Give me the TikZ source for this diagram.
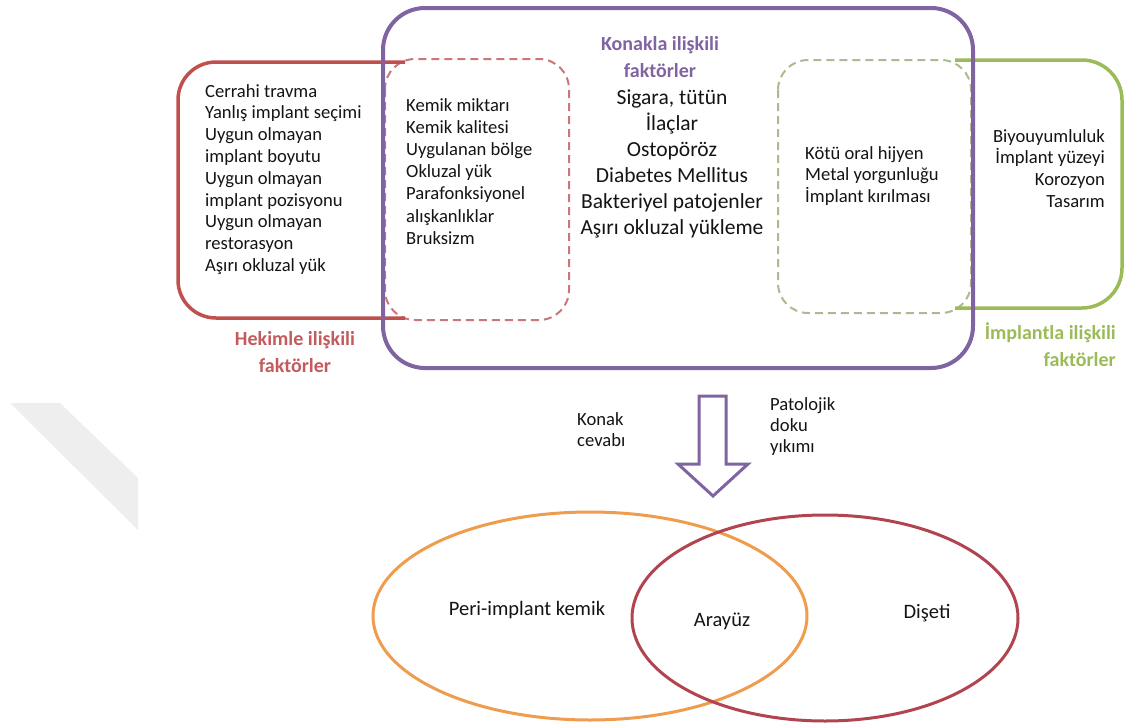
\documentclass[tikz,border=0pt]{standalone}
\usepackage{fontspec}
\setmainfont{Carlito}
\definecolor{redc}{RGB}{192,80,77}
\definecolor{redlbl}{RGB}{196,90,92}
\definecolor{reddash}{RGB}{200,120,120}
\definecolor{purp}{RGB}{128,100,162}
\definecolor{greenc}{RGB}{155,187,89}
\definecolor{greendash}{RGB}{172,186,145}
\definecolor{orangec}{RGB}{238,156,78}
\definecolor{ellred}{RGB}{178,68,80}
\definecolor{txtc}{RGB}{20,20,20}
\definecolor{wm}{RGB}{238,238,238}
\begin{document}
\begin{tikzpicture}[x=1pt,y=-1pt,
  txt/.style={inner sep=0pt, font=\fontsize{18.6}{21.8}\selectfont, text=txtc, align=left},
  bigtxt/.style={inner sep=0pt, font=\fontsize{21.5}{26}\selectfont, text=txtc, align=center},
  lbl/.style={inner sep=0pt, font=\bfseries\fontsize{20}{27}\selectfont},
  ovtxt/.style={inner sep=0pt, font=\fontsize{20.5}{24}\selectfont, text=txtc},
  solidbox/.style={line width=3.5pt},
  dashbox/.style={line width=2pt, dash pattern=on 8pt off 5pt, rounded corners=30pt},
]
\useasboundingbox (0,0) rectangle (1125,723);
% watermark band
\fill[wm] (10,403) -- (60,403) -- (138,478) -- (138,530) -- cycle;

% dashed inner boxes
\draw[dashbox, reddash] (385,59) rectangle (569,320);
\draw[dashbox, greendash] (778,60) rectangle (971,313);

% doctor-related (red) open box
\draw[solidbox, redc, rounded corners=38pt] (405,62) -- (178,62) -- (178,318) -- (405,318);
% implant-related (green) open box
\draw[solidbox, greenc, rounded corners=40pt] (955,60) -- (1122,60) -- (1122,308) -- (955,308);
% host-related (purple) box
\draw[line width=4pt, purp, rounded corners=42pt] (383,8) rectangle (973,368);

% texts
\node[txt, anchor=north west] (hek) at (205,84) {Cerrahi travma\\Yanlış implant seçimi\\Uygun olmayan\\implant boyutu\\Uygun olmayan\\implant pozisyonu\\Uygun olmayan\\restorasyon\\Aşırı okluzal yük};
\node[lbl, text=redlbl, align=center, anchor=north] (hekl) at (295,331) {Hekimle ilişkili\\faktörler};

\node[txt, anchor=north west, font=\fontsize{18.6}{22.2}\selectfont] (ortak1) at (406,98) {Kemik miktarı\\Kemik kalitesi\\Uygulanan bölge\\Okluzal yük\\Parafonksiyonel\\alışkanlıklar\\Bruksizm};

\node[lbl, text=purp, align=center, anchor=north] (konl) at (660,36) {Konakla ilişkili\\faktörler};
\node[bigtxt, anchor=north] (kon) at (672,90) {Sigara, tütün\\İlaçlar\\Ostopöröz\\Diabetes Mellitus\\Bakteriyel patojenler\\Aşırı okluzal yükleme};

\node[txt, anchor=north west] (ortak2) at (805,146) {Kötü oral hijyen\\Metal yorgunluğu\\İmplant kırılması};

\node[txt, align=right, anchor=north east] (imp) at (1105,129) {Biyouyumluluk\\İmplant yüzeyi\\Korozyon\\Tasarım};
\node[lbl, text=greenc, align=right, anchor=north east] (impl) at (1116,323) {İmplantla ilişkili\\faktörler};

% block arrow
\draw[purp, line width=3pt, line join=miter] (699,396) -- (726,396) -- (726,464) -- (748,464) -- (713,496) -- (678,464) -- (699,464) -- cycle;

\node[txt, anchor=north west] (konak) at (577,412) {Konak\\cevabı};
\node[txt, anchor=north west, font=\fontsize{18.6}{21}\selectfont] (pat) at (770,397) {Patolojik\\doku\\yıkımı};

% ellipses
\draw[orangec, line width=3pt] (590,616) ellipse [x radius=217pt, y radius=104pt];
\draw[ellred, line width=3pt] (825,618) ellipse [x radius=193pt, y radius=103pt];

\node[ovtxt] (kemik) at (527,610) {Peri-implant kemik};
\node[ovtxt] (arayuz) at (722,621) {Arayüz};
\node[ovtxt] (diseti) at (927,613) {Dişeti};
\end{tikzpicture}
\end{document}
